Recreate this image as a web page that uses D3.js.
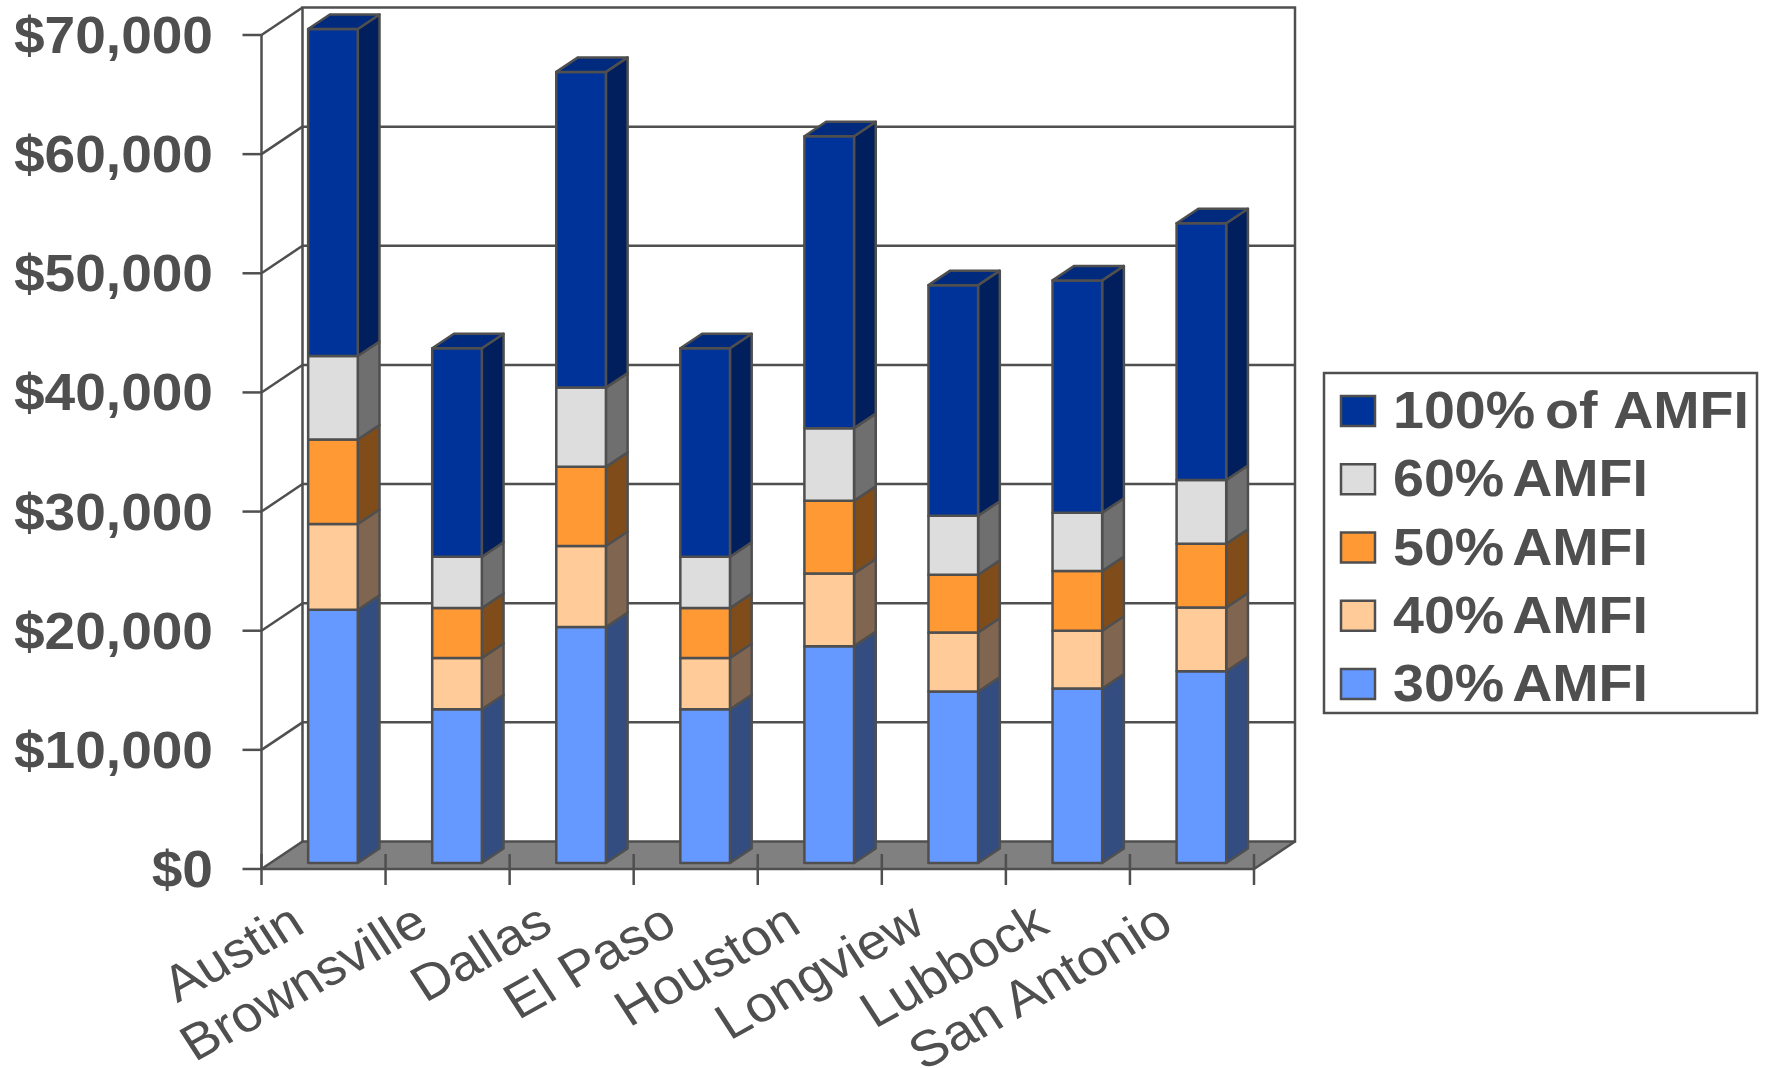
<!DOCTYPE html>
<html>
<head>
<meta charset="utf-8">
<title>Rent by AMFI level</title>
<style>
  html, body { margin: 0; padding: 0; background: #fff; }
  svg { display: block; }
  text { font-family: "Liberation Sans", Arial, sans-serif; fill: #4f4f4f; }
</style>
<script src="https://cdnjs.cloudflare.com/ajax/libs/d3/7.8.5/d3.min.js"></script>
</head>
<body>
<script>
const cities = ["Austin", "Brownsville", "Dallas", "El Paso", "Houston", "Longview", "Lubbock", "San Antonio"];
const seriesNames = ["30% AMFI", "40% AMFI", "50% AMFI", "60% AMFI", "100% of AMFI"];

// Income added by each AMFI band, per city, bottom band first.
const amfi30  = [21250, 12900, 19800, 12900, 18200, 14400, 14650, 16100];
const amfi40  = [ 7200,  4300,  6800,  4300,  6100,  4950,  4850,  5350];
const amfi50  = [ 7100,  4200,  6650,  4200,  6100,  4850,  5000,  5350];
const amfi60  = [ 7000,  4300,  6650,  4300,  6100,  4950,  4900,  5350];
const amfi100 = [27450, 17500, 26500, 17500, 24500, 19350, 19500, 21550];
const seriesValues = [amfi30, amfi40, amfi50, amfi60, amfi100];

const yTicks = [0, 10000, 20000, 30000, 40000, 50000, 60000, 70000];

const faceColors = ["#6699ff", "#ffcc99", "#ff9933", "#dddddd", "#003399"];
const sideColors = ["#334d80", "#806650", "#804d1a", "#6f6f6f", "#001f5c"];
const topColors  = ["#5279cc", "#cca37a", "#cc7a29", "#b1b1b1", "#002a7e"];

const ink = "#4f4f4f";
const lineWidth = 2.5;
const W = 1765, H = 1068;

// Oblique projection: the floor runs back by this offset from the front plane.
const depth = { x: 41, y: -27.5 };
const plot = { left: 261.5, right: 1254, base: 869, top: 35 };
const stretch = 1.08;
const fontSize = 51;

const x = d3.scaleBand().domain(cities).range([plot.left, plot.right]).paddingInner(0.6).paddingOuter(0.3);
const y = d3.scaleLinear().domain([0, 70000]).range([plot.base, plot.top]);

// Bars stand between a quarter and three quarters of the floor depth.
const barFront = { x: depth.x * 0.23, y: -6 };
const barSide  = { x: depth.x * 0.53, y: -14.5 };

const svg = d3.select("body").append("svg").attr("width", W).attr("height", H);
const poly = pts => pts.map(p => p.join(",")).join(" ");

// Floor
svg.append("polygon")
  .attr("points", poly([
    [plot.left, plot.base], [plot.right, plot.base],
    [plot.right + depth.x, plot.base + depth.y], [plot.left + depth.x, plot.base + depth.y]
  ]))
  .attr("fill", "#808080");

// Back wall, side wall and gridlines
const frame = svg.append("g").attr("fill", "none").attr("stroke", ink).attr("stroke-width", lineWidth);
const backTop = y(70000) + depth.y;
const backBottom = plot.base + depth.y;
frame.append("rect")
  .attr("x", plot.left + depth.x).attr("y", backTop)
  .attr("width", plot.right - plot.left).attr("height", backBottom - backTop);
frame.selectAll("line.grid").data(yTicks.slice(1, -1)).join("line")
  .attr("class", "grid")
  .attr("x1", plot.left + depth.x).attr("x2", plot.right + depth.x)
  .attr("y1", d => y(d) + depth.y).attr("y2", d => y(d) + depth.y);
frame.selectAll("line.wall").data(yTicks).join("line")
  .attr("class", "wall")
  .attr("x1", plot.left).attr("x2", plot.left + depth.x)
  .attr("y1", d => y(d)).attr("y2", d => y(d) + depth.y);

// Front edges of the floor
frame.append("line")
  .attr("x1", plot.right).attr("y1", plot.base)
  .attr("x2", plot.right + depth.x).attr("y2", backBottom);

// Value axis
const yAxis = svg.append("g");
yAxis.append("line")
  .attr("x1", plot.left).attr("x2", plot.left)
  .attr("y1", y(70000)).attr("y2", plot.base)
  .attr("stroke", ink).attr("stroke-width", lineWidth);
yAxis.selectAll("line.tick").data(yTicks).join("line")
  .attr("class", "tick")
  .attr("x1", plot.left - 19).attr("x2", plot.left)
  .attr("y1", d => y(d)).attr("y2", d => y(d))
  .attr("stroke", ink).attr("stroke-width", lineWidth);
yAxis.selectAll("text").data(yTicks).join("text")
  .attr("text-anchor", "end")
  .attr("font-weight", "bold")
  .attr("font-size", fontSize)
  .attr("transform", d => `translate(213,${y(d) + 18}) scale(${stretch},1)`)
  .text(d => d3.format("$,")(d));

// Category axis
const xAxis = svg.append("g").attr("stroke", ink).attr("stroke-width", lineWidth);
xAxis.append("line")
  .attr("x1", plot.left).attr("x2", plot.right)
  .attr("y1", plot.base).attr("y2", plot.base);
const step = x.step();
xAxis.selectAll("line.tick").data(d3.range(cities.length + 1)).join("line")
  .attr("class", "tick")
  .attr("x1", i => plot.left + i * step).attr("x2", i => plot.left + i * step)
  .attr("y1", plot.base - 15).attr("y2", plot.base + 16);

svg.append("g").selectAll("text").data(cities).join("text")
  .attr("text-anchor", "end")
  .attr("font-size", 50.5)
  .attr("transform", d => `translate(${x(d) + x.bandwidth() / 2 - 16.5},${plot.base + 62}) scale(${stretch},1) rotate(-31)`)
  .text(d => d);

// Stacked bars
const rows = cities.map((c, i) => {
  const row = { city: c };
  seriesNames.forEach((s, k) => { row[s] = seriesValues[k][i]; });
  return row;
});
const layers = d3.stack().keys(seriesNames)(rows);

const bars = svg.append("g").attr("stroke", ink).attr("stroke-width", lineWidth).attr("stroke-linejoin", "round");
layers.forEach((layer, k) => {
  const g = bars.append("g");
  layer.forEach(seg => {
    const x0 = x(seg.data.city) + barFront.x;
    const x1 = x0 + x.bandwidth();
    const yB = y(seg[0]) + barFront.y;
    const yT = y(seg[1]) + barFront.y;
    g.append("polygon")
      .attr("fill", sideColors[k])
      .attr("points", poly([[x1, yB], [x1 + barSide.x, yB + barSide.y], [x1 + barSide.x, yT + barSide.y], [x1, yT]]));
    g.append("rect")
      .attr("fill", faceColors[k])
      .attr("x", x0).attr("y", yT)
      .attr("width", x1 - x0).attr("height", yB - yT);
    if (k === seriesNames.length - 1) {
      g.append("polygon")
        .attr("fill", topColors[k])
        .attr("points", poly([[x0, yT], [x1, yT], [x1 + barSide.x, yT + barSide.y], [x0 + barSide.x, yT + barSide.y]]));
    }
  });
});

// Legend, top series first
const legend = svg.append("g");
legend.append("rect")
  .attr("x", 1324).attr("y", 373).attr("width", 433).attr("height", 340)
  .attr("fill", "#fff").attr("stroke", ink).attr("stroke-width", lineWidth);
const legendRow = d3.scalePoint().domain(seriesNames.slice().reverse()).range([411, 684]);
seriesNames.forEach((s, k) => {
  const cy = legendRow(s);
  legend.append("rect")
    .attr("x", 1341).attr("y", cy - 15).attr("width", 34).attr("height", 30)
    .attr("fill", faceColors[k]).attr("stroke", ink).attr("stroke-width", lineWidth);
  const label = legend.append("text")
    .attr("font-weight", "bold").attr("font-size", fontSize)
    .attr("word-spacing", -5)
    .attr("transform", `translate(1393,${cy + 17}) scale(1.09,1)`);
  // Word gaps are tight except the one before the final word of the longest label.
  const words = s.split(" ");
  const last = words.pop();
  label.append("tspan").text(words.join(" "));
  label.append("tspan").attr("dx", words.length > 1 ? 7 : 0).text(" " + last);
});
</script>
</body>
</html>
